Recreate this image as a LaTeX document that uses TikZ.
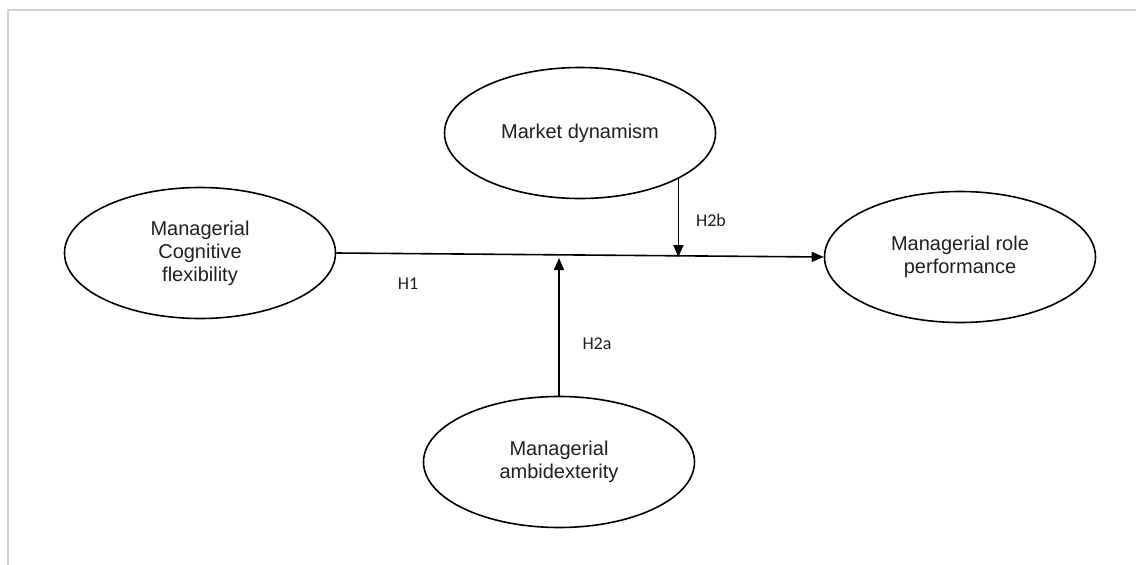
\documentclass[tikz,border=0pt]{standalone}
\usepackage{fontspec}
\setmainfont{Liberation Sans}
\newfontfamily\lblfont{Carlito}
\usetikzlibrary{shapes.geometric,arrows.meta}
\begin{document}
\begin{tikzpicture}[x=1pt,y=-1pt,
  ell/.style={ellipse,draw,line width=1.6pt,minimum width=271pt,minimum height=131pt,inner sep=0pt,align=center,text=black!88,font=\fontsize{20}{23}\selectfont},
  arr/.style={line width=1.6pt,-{Triangle[length=12pt,width=10pt]}},
  lbl/.style={inner sep=0pt,text=black!88,font=\lblfont\fontsize{18}{20}\selectfont}]
\useasboundingbox (0,0) rectangle (1136,565);
\draw[black!18, line width=2pt] (7.5,565) -- (7.5,10) -- (1136,10);
\node[ell] (a) at (200,253) {Managerial\\Cognitive\\flexibility};
\node[ell] (m) at (580,133) {Market dynamism};
\node[ell] (d) at (960,257) {Managerial role\\performance};
\node[ell] (b) at (559,462) {Managerial\\ambidexterity};
\coordinate (j) at (559,258);
\draw[arr] (a.east) -- (d.west);
\draw[arr] (m.-25.6) -- (m.-25.6 |- d.west);
\draw[arr] (b.north) -- (j);
\node[lbl] (h1) at (408,284) {H1};
\node[lbl] (h2a) at (597,344) {H2a};
\node[lbl] (h2b) at (711,220) {H2b};
\end{tikzpicture}
\end{document}
